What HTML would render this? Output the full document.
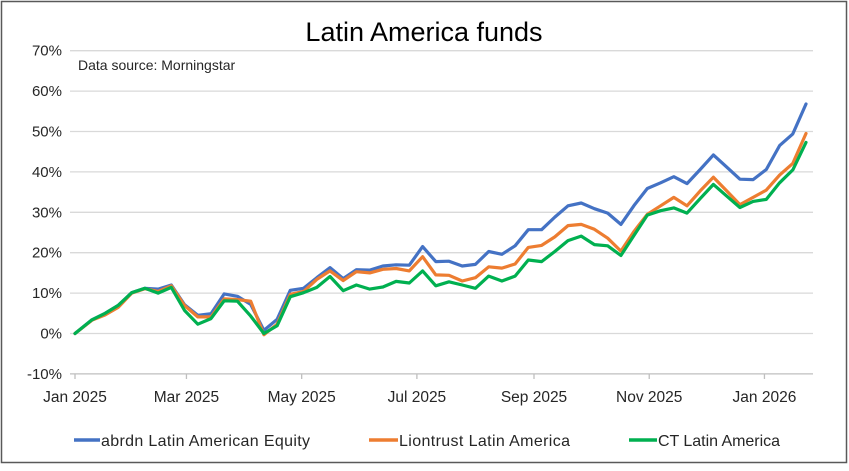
<!DOCTYPE html>
<html><head><meta charset="utf-8">
<style>
html,body{margin:0;padding:0;background:#fff;}
body{width:849px;height:466px;overflow:hidden;font-family:"Liberation Sans",sans-serif;}
svg text{font-family:"Liberation Sans",sans-serif;}
</style></head>
<body>
<svg id="chart" width="849" height="466">
<rect x="1.5" y="1.5" width="845" height="461" fill="#fff" stroke="#595959" stroke-width="1.5"/>
<text x="424" y="41" text-anchor="middle" font-size="27" fill="#000">Latin America funds</text>
<text x="78" y="70" font-size="14" fill="#262626">Data source: Morningstar</text>
<g id="grid"></g><g id="xaxis"></g><g id="series"></g>
<g>
<line x1="74" y1="440" x2="100" y2="440" stroke="#4472C4" stroke-width="3.5"/>
<text x="101" y="446" font-size="16" fill="#262626" textLength="209">abrdn Latin American Equity</text>
<line x1="369" y1="440" x2="398" y2="440" stroke="#ED7D31" stroke-width="3.5"/>
<text x="399" y="446" font-size="16" fill="#262626" textLength="171">Liontrust Latin America</text>
<line x1="629" y1="440" x2="657" y2="440" stroke="#00B050" stroke-width="3.5"/>
<text x="658" y="446" font-size="16" fill="#262626" textLength="122">CT Latin America</text>
</g>
</svg>
<script>
const dayOffsets=[0,9,16,23,30,37,44,51,58,65,72,79,86,93,100,107,114,121,128,135,142,149,156,163,170,177,184,191,198,205,212,219,226,233,240,247,254,261,268,275,282,289,296,303,310,317,324,331,338,345,352,359,366,373,380,387];
const abrdn=[0,3.4,5.0,7.0,10.1,11.2,11.0,12.0,7.1,4.5,4.9,9.8,9.2,7.2,0.8,3.5,10.7,11.2,13.8,16.3,13.6,15.8,15.7,16.7,17.0,16.9,21.5,17.8,17.9,16.7,17.1,20.3,19.6,21.7,25.7,25.7,28.8,31.6,32.3,30.9,29.8,27.0,31.7,35.9,37.3,38.8,37.1,40.6,44.2,41.2,38.2,38.1,40.6,46.5,49.4,56.8];
const liontrust=[0,3.3,4.6,6.5,10.0,11.1,10.4,11.8,6.9,4.1,4.1,8.6,8.4,8.0,-0.3,2.3,9.7,10.4,13.4,15.5,13.1,15.3,15.0,15.9,16.1,15.5,19.0,14.5,14.4,13.0,13.8,16.5,16.2,17.2,21.3,21.8,23.9,26.7,27.0,25.8,23.6,20.4,25.3,29.5,31.6,33.7,31.6,35.3,38.7,35.3,31.9,33.7,35.5,39.2,42.1,49.5];
const ct=[0,3.4,5.0,7.0,10.1,11.2,10.0,11.4,5.7,2.3,3.7,8.1,8.0,4.3,0,1.9,9.1,10.1,11.4,14.1,10.6,12.0,11.0,11.5,12.9,12.5,15.5,11.8,12.8,12.0,11.2,14.2,13.0,14.2,18.2,17.8,20.3,23.0,24.1,22.0,21.7,19.3,24.3,29.3,30.4,31.1,29.8,33.4,36.9,34.0,31.2,32.7,33.2,37.3,40.5,47.3];
const yTicks=[-10,0,10,20,30,40,50,60,70];
const xTickDays=[0,59,120,181,243,304,365];
const xTickLabels=["Jan 2025","Mar 2025","May 2025","Jul 2025","Sep 2025","Nov 2025","Jan 2026"];

const NS="http://www.w3.org/2000/svg";
const X0=75,PX_PER_DAY=1.8889,PL=70,PR=813;
function xs(d){return X0+d*PX_PER_DAY;}
function ys(v){return 333.5-v*4.04;}
function mk(tag,attrs,parent){const e=document.createElementNS(NS,tag);for(const k in attrs)e.setAttribute(k,attrs[k]);parent.appendChild(e);return e;}
const grid=document.getElementById('grid');
yTicks.forEach(t=>{
  const l=mk('line',{x1:PL,x2:PR,y1:ys(t),y2:ys(t),stroke:t===-10?'#bfbfbf':'#d9d9d9','stroke-width':1.3},grid);
  
  
  const tx=mk('text',{x:62,y:ys(t)+5,'text-anchor':'end','font-size':15,fill:'#262626'},grid);
  tx.textContent=t+'%';
  
  
});
const xa=document.getElementById('xaxis');
xTickDays.forEach((d,i)=>{
  const l=mk('line',{x1:xs(d),x2:xs(d),y1:374,y2:379,stroke:'#bfbfbf','stroke-width':1.3},xa);
  
  
  const tx=mk('text',{x:xs(d),y:402,'text-anchor':'middle','font-size':15.5,fill:'#262626'},xa);
  tx.textContent=xTickLabels[i];
  
  
});
const sg=document.getElementById('series');
[[abrdn,'#4472C4','abrdn'],[liontrust,'#ED7D31','liontrust'],[ct,'#00B050','ct']].forEach(([vals,c,n])=>{
  const pts=vals.map((v,i)=>xs(dayOffsets[i]).toFixed(1)+','+ys(v).toFixed(1)).join(' ');
  const p=mk('polyline',{points:pts,fill:'none',stroke:c,'stroke-width':3.2,'stroke-linejoin':'round','stroke-linecap':'round'},sg);
  
  
});
</script>
</body></html>
